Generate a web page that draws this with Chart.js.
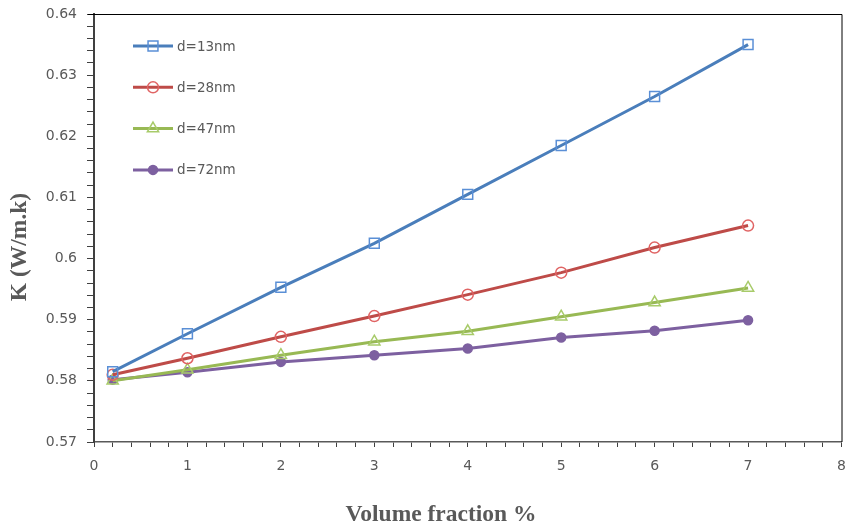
<!DOCTYPE html>
<html>
<head>
<meta charset="utf-8">
<script src="https://cdn.jsdelivr.net/npm/chart.js@4.4.1/dist/chart.umd.min.js"></script>
<style>
  html, body { margin:0; padding:0; background:#fff; overflow:hidden; }
  #wrap { width:845px; height:526px; position:relative; overflow:hidden; }
</style>
</head>
<body>
<div id="wrap"><canvas id="chart" width="850" height="526"></canvas></div>
<script>
// Data
const volumeFraction = [0.2, 1, 2, 3, 4, 5, 6, 7];
const kD13 = [0.5815, 0.5877, 0.5953, 0.6025, 0.6105, 0.6185, 0.6265, 0.6350];
const kD28 = [0.5810, 0.5837, 0.5872, 0.5906, 0.5941, 0.5977, 0.6018, 0.6054];
const kD47 = [0.5800, 0.5818, 0.5842, 0.5864, 0.5881, 0.5905, 0.5928, 0.5952];
const kD72 = [0.5802, 0.5814, 0.5831, 0.5842, 0.5853, 0.5871, 0.5882, 0.5899];
const seriesLabels = ['d=13nm', 'd=28nm', 'd=47nm', 'd=72nm'];

const xTitle = 'Volume fraction %';
const yTitle = 'K (W/m.k)';
const X_MIN = 0, X_MAX = 8, X_MINOR = 0.2;
const Y_MIN = 0.57, Y_MAX = 0.64, Y_MINOR = 0.002;

const GREY = '#595959';
const AXIS = '#404040';

const pts = ys => volumeFraction.map((x, i) => ({ x, y: ys[i] }));

function minorTicks(min, max, step){
  const out = [];
  const n = Math.round((max - min) / step);
  for(let i = 0; i <= n; i++) out.push({ value: +(min + i*step).toFixed(4) });
  return out;
}

const STYLES = [
  { line:'#4A7EBB', mark:'#5A8FD6', style:'rect',     r:7,   fill:'rgba(0,0,0,0)' },
  { line:'#BE4B48', mark:'#E06464', style:'circle',   r:5.5, fill:'rgba(0,0,0,0)' },
  { line:'#98B954', mark:'#A8CB6A', style:'triangle', r:6.5, fill:'rgba(0,0,0,0)' },
  { line:'#7D60A0', mark:'#7D60A0', style:'circle',   r:4.5, fill:'#7D60A0' },
];

const datasets = [kD13, kD28, kD47, kD72].map((ys, i) => ({
  label: seriesLabels[i],
  data: pts(ys),
  showLine: true,
  borderColor: STYLES[i].line,
  borderWidth: 3,
  tension: 0,
  pointStyle: STYLES[i].style,
  pointRadius: STYLES[i].r,
  pointBorderColor: STYLES[i].mark,
  pointBackgroundColor: STYLES[i].fill,
  pointBorderWidth: 1.5,
}));

// frame, legend and axis titles
const decor = {
  id: 'decor',
  afterDraw(chart){
    const { ctx, chartArea: a } = chart;
    ctx.save();
    // top + right border of plot area
    ctx.strokeStyle = '#000';
    ctx.lineWidth = 1;
    ctx.beginPath();
    ctx.moveTo(a.left - 6, a.top + 0.5);
    ctx.lineTo(a.right + 0.5, a.top + 0.5);
    ctx.lineTo(a.right + 0.5, a.bottom);
    ctx.stroke();

    // legend inside the plot
    chart.data.datasets.forEach((ds, i) => {
      const y = 46 + i * 41.3;
      ctx.strokeStyle = ds.borderColor;
      ctx.lineWidth = 3;
      ctx.beginPath();
      ctx.moveTo(133, y);
      ctx.lineTo(173, y);
      ctx.stroke();
      ctx.strokeStyle = ds.pointBorderColor;
      ctx.fillStyle = ds.pointBackgroundColor;
      ctx.lineWidth = ds.pointBorderWidth;
      Chart.helpers.drawPoint(ctx, {
        pointStyle: ds.pointStyle, rotation: 0,
        radius: ds.pointRadius, borderWidth: ds.pointBorderWidth
      }, 153, y);
      ctx.fillStyle = GREY;
      ctx.font = '13.5px "DejaVu Sans"';
      ctx.textAlign = 'left';
      ctx.textBaseline = 'middle';
      ctx.fillText(ds.label, 177, y + 1);
    });

    // axis titles
    ctx.fillStyle = GREY;
    ctx.font = 'bold 23.5px "Liberation Serif"';
    ctx.textAlign = 'center';
    ctx.textBaseline = 'middle';
    ctx.fillText(xTitle, 441, 515);
    ctx.translate(20, 247);
    ctx.rotate(-Math.PI / 2);
    ctx.fillText(yTitle, 0, 0);
    ctx.restore();
  }
};

new Chart(document.getElementById('chart'), {
  type: 'scatter',
  data: { datasets },
  options: {
    responsive: false,
    animation: false,
    layout: { padding: { top: 14, right: 0, bottom: 0, left: 0 } },
    plugins: { legend: { display: false }, tooltip: { enabled: false } },
    scales: {
      x: {
        type: 'linear', min: X_MIN, max: X_MAX,
        afterBuildTicks: s => { s.ticks = minorTicks(X_MIN, X_MAX, X_MINOR); },
        afterFit: s => { s.height = 84; s.paddingLeft = 0; s.paddingRight = 0; },
        ticks: {
          autoSkip: false, maxRotation: 0, padding: 11, color: GREY,
          font: { family: 'DejaVu Sans', size: 14 },
          callback: v => Math.abs(v - Math.round(v)) < 1e-6 ? String(Math.round(v)) : ''
        },
        grid: { drawOnChartArea: false, drawTicks: true, tickLength: 5, color: AXIS, lineWidth: 1 },
        border: { display: true, color: GREY, width: 1.5 },
      },
      y: {
        type: 'linear', min: Y_MIN, max: Y_MAX,
        afterBuildTicks: s => { s.ticks = minorTicks(Y_MIN, Y_MAX, Y_MINOR); },
        afterFit: s => { s.width = 94; s.paddingTop = 0; s.paddingBottom = 0; },
        ticks: {
          autoSkip: false, padding: 10, color: GREY,
          font: { family: 'DejaVu Sans', size: 14 },
          callback: v => {
            const k = Math.round(v * 1000);
            return k % 10 === 0 ? String(+(k / 1000).toFixed(2)) : '';
          }
        },
        grid: { drawOnChartArea: false, drawTicks: true, tickLength: 7, color: AXIS, lineWidth: 1 },
        border: { display: true, color: AXIS, width: 2 },
      }
    }
  },
  plugins: [decor]
});
</script>
</body>
</html>
